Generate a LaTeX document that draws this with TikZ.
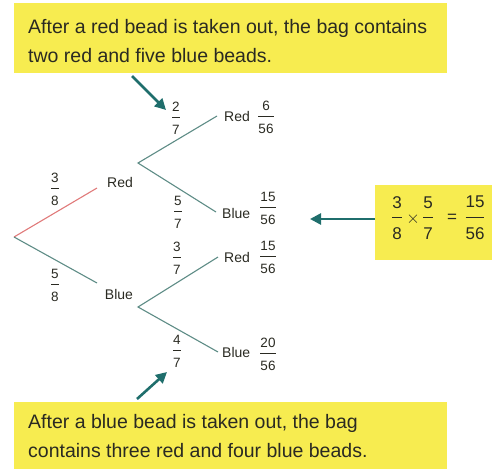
\documentclass[tikz,border=0pt]{standalone}
\usepackage{fontspec}
\setmainfont{Liberation Sans}
\usetikzlibrary{arrows.meta}
\definecolor{ybox}{HTML}{F7EC50}
\definecolor{tealarrow}{HTML}{1F6E6C}
\definecolor{branch}{HTML}{5E8C86}
\definecolor{redbranch}{HTML}{E07A7A}
\definecolor{txt}{HTML}{2A2A22}
\newcommand\fr[3][3.5pt]{\ensuremath{\displaystyle{\mbox{\rule[-#1]{0pt}{#1}#2}\above 0.9pt\mbox{\rule{0pt}{\dimexpr .72em+#1\relax}#3}}}}
\tikzset{
  yellowbox/.style={fill=ybox, draw=none, inner sep=0pt, anchor=north west},
  boxtext/.style={font=\fontsize{19.5}{29}\selectfont, text=txt, align=left, anchor=west, inner sep=0pt},
  treeline/.style={branch, line width=1.1pt},
  redline/.style={redbranch, line width=1.1pt},
  lbl/.style={font=\fontsize{14}{16}\selectfont, text=txt, inner sep=0pt},
  frac/.style={font=\fontsize{13.5}{15}\selectfont, text=txt, inner sep=0pt},
  bigfrac/.style={font=\fontsize{17}{19}\selectfont, text=txt, inner sep=0pt},
  callout/.style={tealarrow, line width=2.6pt, -{Triangle[length=11pt,width=11pt]}},
}
\begin{document}
\begin{tikzpicture}[x=1pt,y=-1pt]
\useasboundingbox (0,0) rectangle (492,469);
% boxes
\node[yellowbox, minimum width=433pt, minimum height=70pt] (topbox) at (14,3) {};
\node[boxtext] (toptext) at (28,41) {After a red bead is taken out, the bag contains\\two red and five blue beads.};
\node[yellowbox, minimum width=433pt, minimum height=67pt] (botbox) at (14,402) {};
\node[boxtext] (bottext) at (28,436) {After a blue bead is taken out, the bag\\contains three red and four blue beads.};
\node[yellowbox, minimum width=117pt, minimum height=75pt] (rbox) at (375,185) {};
\node[bigfrac] (c1) at (397,218) {\fr[6.5pt]{3}{8}};
\node[bigfrac] (c2) at (413,219) {$\times$};
\node[bigfrac] (c3) at (428,218) {\fr[6.5pt]{5}{7}};
\node[bigfrac] (c4) at (452,218) {=};
\node[bigfrac] (c5) at (475,218) {\fr[6.5pt]{15}{56}};
% tree points
\coordinate (root) at (14,237);
\coordinate (a1) at (97,188);
\coordinate (b1) at (97,283);
\coordinate (r2) at (138,163);
\coordinate (b2) at (138,307);
\coordinate (rr) at (217,116);
\coordinate (rb) at (216,212);
\coordinate (br) at (218,257);
\coordinate (bb) at (218,352);
\draw[redline] (root) -- (a1);
\draw[treeline] (root) -- (b1);
\draw[treeline] (rr) -- (r2) -- (rb);
\draw[treeline] (br) -- (b2) -- (bb);
% labels
\node[lbl] (lred) at (120,182) {Red};
\node[lbl] (lblue) at (119,294) {Blue};
\node[frac] (f38) at (55,189) {\fr{3}{8}};
\node[frac] (f58) at (55,285) {\fr{5}{8}};
\node[frac] (f27) at (176,118) {\fr{2}{7}};
\node[frac] (f57) at (178,212) {\fr{5}{7}};
\node[frac] (f37) at (177,258) {\fr{3}{7}};
\node[frac] (f47) at (177,351) {\fr{4}{7}};
\node[lbl, anchor=west] (trr) at (224,116) {Red};
\node[frac] (v1) at (266,117) {\fr{6}{56}};
\node[lbl, anchor=west] (trb) at (222,213) {Blue};
\node[frac] (v2) at (268,208) {\fr{15}{56}};
\node[lbl, anchor=west] (tbr) at (224,257) {Red};
\node[frac] (v3) at (268,257) {\fr{15}{56}};
\node[lbl, anchor=west] (tbb) at (222,352) {Blue};
\node[frac] (v4) at (268,354) {\fr{20}{56}};
% callout arrows
\coordinate (ta) at (132,76);
\coordinate (tip27) at (166,110);
\coordinate (ba) at (137,399);
\coordinate (tip47) at (167,372);
\coordinate (ra) at (310,219);
\draw[callout] (ta) -- (tip27);
\draw[callout] (ba) -- (tip47);
\draw[callout] (rbox.west |- ra) -- (ra);
\end{tikzpicture}
\end{document}
